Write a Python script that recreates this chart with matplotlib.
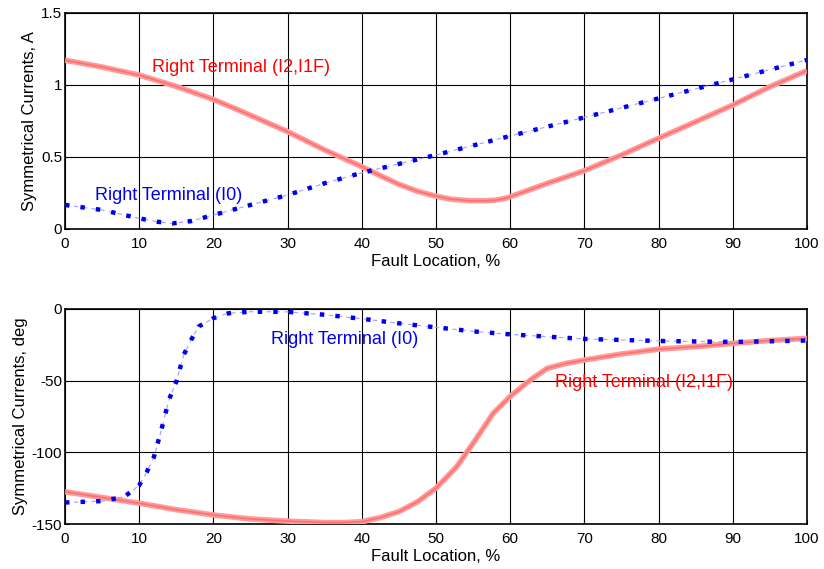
import matplotlib
matplotlib.use("Agg")
import matplotlib.pyplot as plt

plt.rcParams['font.family'] = ['Liberation Sans', 'DejaVu Sans']
plt.rcParams['font.size'] = 11
plt.rcParams['axes.unicode_minus'] = False

# Top panel: magnitudes (A)
x_red_top = [0, 5, 10, 15, 20, 25, 30, 35, 40, 42.5, 45, 47.5, 50, 52, 54.5, 56.5, 58, 59.5, 62.5, 65, 70, 75, 80, 85, 90, 95, 100]
y_red_top = [1.172, 1.125, 1.069, 0.99, 0.90, 0.79, 0.676, 0.549, 0.433, 0.37, 0.31, 0.262, 0.228, 0.207, 0.197, 0.196, 0.2, 0.215, 0.27, 0.317, 0.405, 0.514, 0.63, 0.745, 0.861, 0.988, 1.10]
x_blue_top = [0, 5, 10, 12.5, 14.5, 17, 20, 25, 30, 35, 40, 45, 50, 60, 70, 80, 90, 100]
y_blue_top = [0.167, 0.132, 0.074, 0.05, 0.039, 0.055, 0.097, 0.167, 0.236, 0.318, 0.39, 0.452, 0.514, 0.646, 0.775, 0.907, 1.039, 1.174]

# Bottom panel: angles (deg)
x_red_bot = [0, 5, 10, 15, 20, 25, 30, 35, 37.5, 40, 42.5, 45, 47.5, 50, 52.8, 55.3, 57.7, 60, 62.7, 65, 67.5, 70, 75, 80, 85, 90, 95, 100]
y_red_bot = [-127.5, -131.5, -135.5, -140, -143.7, -146.5, -148, -149, -149, -148.4, -145.5, -141.4, -134.5, -125, -110, -91.4, -72.8, -61, -49.5, -41.4, -38, -35.6, -31.4, -28, -26.3, -24, -22, -20.5]
x_blue_bot = [0, 5, 8, 10, 11, 12, 13, 14, 15, 16, 17, 18, 20, 22, 25, 30, 35, 40, 45, 50, 55, 60, 65, 70, 80, 90, 100]
y_blue_bot = [-135, -134, -131, -123, -114, -103, -84, -63.5, -50.7, -32, -21.6, -12.3, -6.4, -3, -1.9, -2, -4, -6.8, -10, -12.8, -15.6, -17.7, -19.3, -20.9, -22.3, -23, -22]

xticks = [0, 10, 20, 30, 40, 50, 60, 70, 80, 90, 100]
top_yticks = [0, 0.5, 1, 1.5]
top_ylabels = ['0', '0.5', '1', '1.5']
bot_yticks = [-150, -100, -50, 0]

fig = plt.figure(figsize=(8.24, 5.69), dpi=100)
ax1 = fig.add_axes([65/824, 1-229/569, 742/824, 216/569])
ax2 = fig.add_axes([65/824, 1-524/569, 742/824, 215/569])

def draw_red(ax, x, y):
    ax.plot(x, y, color='#ff9a9a', lw=4.0, solid_capstyle='butt', solid_joinstyle='round', zorder=3)
    ax.plot(x, y, color='#ff4d4d', lw=1.2, alpha=0.55, zorder=3)

def draw_blue(ax, x, y):
    ax.plot(x, y, color='#a0a0ff', lw=0.8, linestyle=(0, (4, 4)), zorder=4)
    ax.plot(x, y, color='#0000ee', lw=3.2, linestyle=(0, (1, 2.5)), zorder=5)

for ax in (ax1, ax2):
    ax.set_xlim(0, 100)
    ax.set_xticks(xticks)
    ax.grid(True, color='black', lw=0.8)
    ax.tick_params(axis='x', direction='in', length=3, width=0.8, labelsize=11, pad=6)
    ax.tick_params(axis='y', direction='in', length=3, width=0.8, labelsize=11, pad=2)
    for s in ax.spines.values():
        s.set_linewidth(1.2)
    ax.set_xlabel('Fault Location, %', fontsize=12, labelpad=2)

draw_red(ax1, x_red_top, y_red_top)
draw_blue(ax1, x_blue_top, y_blue_top)
ax1.set_ylim(0, 1.5)
ax1.set_yticks(top_yticks)
ax1.set_yticklabels(top_ylabels)
ax1.set_ylabel('Symmetrical Currents, A', fontsize=12, labelpad=3)
ax1.text(11.7, 1.12, 'Right Terminal (I2,I1F)', color='red', fontsize=13, va='center', ha='left')
ax1.text(4.0, 0.235, 'Right Terminal (I0)', color='#0000ee', fontsize=13, va='center', ha='left')

draw_red(ax2, x_red_bot, y_red_bot)
draw_blue(ax2, x_blue_bot, y_blue_bot)
ax2.set_ylim(-150, 0)
ax2.set_yticks(bot_yticks)
ax2.set_ylabel('Symmetrical Currents, deg', fontsize=12, labelpad=3)
ax2.text(27.8, -21.6, 'Right Terminal (I0)', color='#0000ee', fontsize=13, va='center', ha='left')
ax2.text(66, -51.6, 'Right Terminal (I2,I1F)', color='red', fontsize=13, va='center', ha='left')

fig.savefig('out.png', dpi=100)
